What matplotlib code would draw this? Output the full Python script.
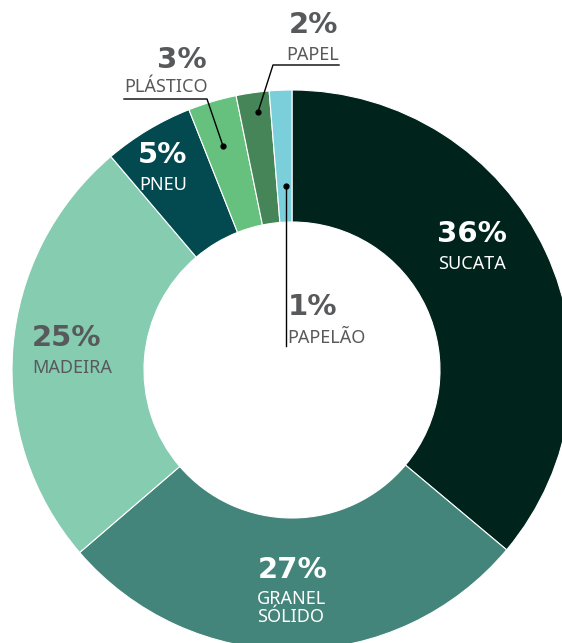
import matplotlib
matplotlib.use("Agg")
import matplotlib.pyplot as plt

# fatias (sentido horário a partir do topo)
categorias = ["SUCATA", "GRANEL\nSÓLIDO", "MADEIRA", "PNEU", "PLÁSTICO", "PAPEL", "PAPELÃO"]
valores = [36.1, 27.6, 25.1, 5.2, 2.8, 1.9, 1.3]
rotulos = ["36%", "27%", "25%", "5%", "3%", "2%", "1%"]
cores = ["#00231C", "#43857A", "#86CCB1", "#024A4F", "#66C17E", "#468557", "#7ACFDB"]

W, H = 562, 643
GRAY = "#58595B"


def Y(y):
    # coordenada em pixels (topo = 0) -> eixo
    return H - y


fig = plt.figure(figsize=(W / 100, H / 100), dpi=100)
ax = fig.add_axes([0, 0, 1, 1])

ax.pie(valores, colors=cores, startangle=90, counterclock=False,
       radius=280, center=(292, Y(370)), frame=True,
       wedgeprops=dict(width=132, edgecolor="white", linewidth=0.8))
ax.set_xlim(0, W)
ax.set_ylim(0, H)
ax.set_aspect("equal")
ax.axis("off")

big = dict(family=["DejaVu Sans"], fontweight="bold", fontsize=21)
small = dict(family=["Noto Sans", "DejaVu Sans"], fontsize=13)

# dentro das fatias
ax.text(472, Y(234), rotulos[0], color="white", ha="center", va="center", **big)
ax.text(472, Y(264), categorias[0], color="white", ha="center", va="center", **small)

ax.text(293, Y(570), rotulos[1], color="white", ha="center", va="center", **big)
ax.text(257, Y(608), categorias[1], color="white", ha="left", va="center",
        linespacing=0.95, **small)

ax.text(32, Y(338), rotulos[2], color=GRAY, ha="left", va="center", **big)
ax.text(32, Y(368), categorias[2], color=GRAY, ha="left", va="center", **small)

ax.text(163, Y(155), rotulos[3], color="white", ha="center", va="center", **big)
ax.text(163, Y(185), categorias[3], color="white", ha="center", va="center", **small)

# rótulos externos com linhas
ax.text(207, Y(60), rotulos[4], color=GRAY, ha="right", va="center", **big)
ax.text(208, Y(87), categorias[4], color=GRAY, ha="right", va="center", **small)
ax.plot([124, 207, 223], [Y(99), Y(99), Y(146)], color="black", lw=1)
ax.plot([223], [Y(146)], "o", color="black", ms=3.5)

ax.text(338, Y(25), rotulos[5], color=GRAY, ha="right", va="center", **big)
ax.text(339, Y(55), categorias[5], color=GRAY, ha="right", va="center", **small)
ax.plot([339, 273, 258], [Y(65), Y(65), Y(112)], color="black", lw=1)
ax.plot([258], [Y(112)], "o", color="black", ms=3.5)

ax.text(288, Y(307), rotulos[6], color=GRAY, ha="left", va="center", **big)
ax.text(287, Y(338), categorias[6], color=GRAY, ha="left", va="center", **small)
ax.plot([286, 286], [Y(186), Y(346)], color="black", lw=1)
ax.plot([286], [Y(186)], "o", color="black", ms=3.5)

fig.savefig("out.png", dpi=100, facecolor="white")
